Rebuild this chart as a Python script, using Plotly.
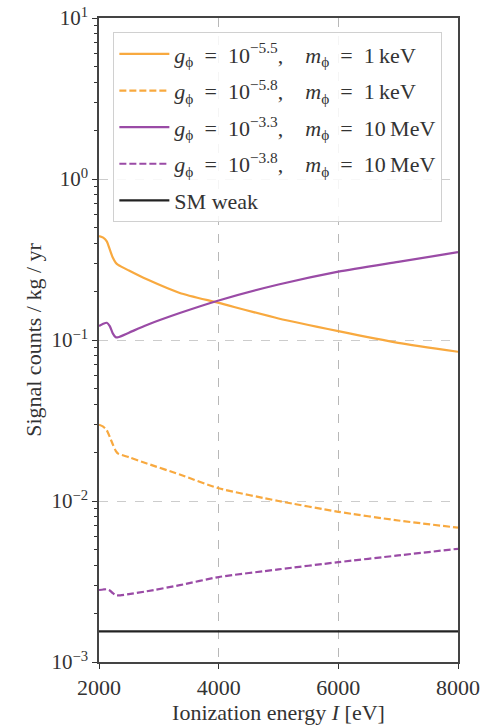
import plotly.graph_objects as go

# Ionization energy grid [eV]
energy = [2000, 2070, 2130, 2180, 2230, 2280, 2320, 2500, 2800, 3350,
          4000, 5000, 6000, 7000, 8000]

# Signal counts per kg per year
light_g55 = [0.442, 0.432, 0.410, 0.365, 0.325, 0.302, 0.293, 0.270, 0.238, 0.196,
             0.170, 0.136, 0.1135, 0.096, 0.0845]
light_g58 = [0.0298, 0.0290, 0.0275, 0.0250, 0.0225, 0.0205, 0.0197, 0.0187, 0.0171, 0.0146,
             0.0120, 0.0100, 0.00857, 0.00757, 0.00683]
heavy_g33 = [0.122, 0.126, 0.128, 0.122, 0.110, 0.104, 0.104, 0.111, 0.124, 0.147,
             0.176, 0.221, 0.266, 0.306, 0.351]
heavy_g38 = [0.00280, 0.00282, 0.00283, 0.00278, 0.00268, 0.00260, 0.00259, 0.00264, 0.00275, 0.00300,
             0.00337, 0.00376, 0.00417, 0.00459, 0.00505]
sm_weak = [0.00155] * len(energy)

y_tickvals = [1e-3, 1e-2, 1e-1, 1e0, 1e1]
y_ticktext = ["10<sup>−3</sup>", "10<sup>−2</sup>", "10<sup>−1</sup>", "10<sup>0</sup>", "10<sup>1</sup>"]
y_minor = [d * 10.0 ** e for e in (-3, -2, -1, 0) for d in range(2, 10)]
x_tickvals = [2000, 4000, 6000, 8000]

ORANGE = "#F8A93F"
PURPLE = "#9A4BA6"
FONT = "Liberation Serif"
EQ = "\u2002=\u2002"
GAP = ",\u2002\u2002"

def label(g, m):
    return (f"<i>g</i><sub>ϕ</sub>{EQ}10<sup>−{g}</sup>{GAP}"
            f"<i>m</i><sub>ϕ</sub>{EQ}{m}")

series = [
    (light_g55, label("5.5", "1\u2009keV"), ORANGE, "solid"),
    (light_g58, label("5.8", "1\u2009keV"), ORANGE, "7px,3px"),
    (heavy_g33, label("3.3", "10\u2009MeV"), PURPLE, "solid"),
    (heavy_g38, label("3.8", "10\u2009MeV"), PURPLE, "7px,3px"),
    (sm_weak, "SM weak", "#222222", "solid"),
]

fig = go.Figure()
for i, (ys, name, color, dash) in enumerate(series):
    fig.add_trace(go.Scatter(
        x=energy, y=ys, name=name, mode="lines", legendgroup=f"g{i}",
        line=dict(color=color, width=2.2, dash=dash, shape="spline", smoothing=0.6),
    ))

fig.update_layout(
    width=481, height=725,
    margin=dict(l=99, r=23, t=18, b=63),
    paper_bgcolor="white", plot_bgcolor="white",
    font=dict(family=FONT, size=21, color="#333333"),
    showlegend=True,
    legend=dict(
        x=0.04, y=0.978, xanchor="left", yanchor="top",
        bgcolor="rgba(255,255,255,0.85)", bordercolor="#d0d0d0", borderwidth=1,
        font=dict(family=FONT, size=22, color="#333333"),
        tracegroupgap=5, itemwidth=50,
    ),
)

fig.update_xaxes(
    range=[2000, 8000], tickvals=x_tickvals, automargin=False,
    tickfont=dict(size=22),
    ticks="outside", ticklen=5, tickwidth=1, tickcolor="#333",
    showline=True, linecolor="#444", linewidth=1.5, mirror=True,
    showgrid=True, gridcolor="rgba(0,0,0,0.28)", griddash="dash", gridwidth=1,
    zeroline=False,
    title=dict(text="Ionization energy <i>I</i> [eV]", font=dict(size=22), standoff=2),
)
fig.update_yaxes(
    type="log", range=[-3, 1], tickmode="array", automargin=False,
    tickvals=y_tickvals, ticktext=y_ticktext, tickfont=dict(size=21),
    ticks="outside", ticklen=5, tickwidth=1, tickcolor="#333",
    minor=dict(tickmode="array", tickvals=y_minor, ticks="outside", ticklen=3,
               tickcolor="#333", showgrid=False),
    showline=True, linecolor="#444", linewidth=1.5, mirror=True,
    showgrid=True, gridcolor="rgba(0,0,0,0.2)", griddash="dash", gridwidth=1,
    zeroline=False,
    title=dict(text="Signal counts / kg / yr", font=dict(size=22), standoff=4),
)

fig.write_html("out.html")
